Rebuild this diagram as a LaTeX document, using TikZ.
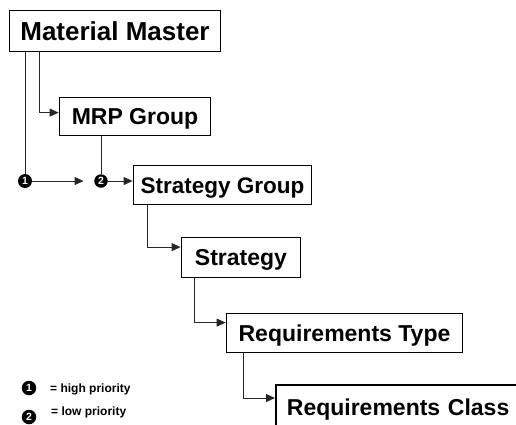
\documentclass[tikz,border=0pt]{standalone}
\usepackage{fontspec}
\setmainfont{Liberation Sans}
\usetikzlibrary{arrows.meta}
\begin{document}
\begin{tikzpicture}[x=1pt,y=-1pt,
  box/.style={draw=black, line width=1.8pt, fill=white, inner sep=0pt,
    text height=16.5pt, text depth=0pt,
    font=\bfseries\fontsize{23}{26}\selectfont},
  link/.style={draw=black!85, line width=1pt},
  arr/.style={link, -{Triangle[length=9pt,width=8pt]}},
  badge/.style={circle, fill=black, text=white, inner sep=0pt, minimum size=14pt,
    font=\bfseries\fontsize{10.5}{10.5}\selectfont},
  legendtext/.style={anchor=base west, inner sep=0pt,
    font=\bfseries\fontsize{12}{14}\selectfont}]
\useasboundingbox (0,0) rectangle (516,424);
\clip (0,0) rectangle (516,424);

% boxes
\node[box, minimum width=211pt, minimum height=41pt, text height=18.5pt,
  font=\bfseries\fontsize{26}{29}\selectfont] (mm) at (115,31) {Material Master};
\node[box, minimum width=151pt, minimum height=38pt] (mrp) at (135,116.5) {MRP Group};
\node[box, minimum width=178pt, minimum height=39pt,
  font=\bfseries\fontsize{22.5}{26}\selectfont] (sg) at (222.5,185) {Strategy Group};
\node[box, minimum width=119pt, minimum height=40pt] (st) at (241,257.5) {Strategy};
\node[box, minimum width=236pt, minimum height=39pt] (rt) at (344.5,333) {Requirements Type};
\node[box, anchor=north west, text width=230pt, align=left, inner xsep=11pt,
  minimum height=44pt] (rc) at (275,384) {Requirements Class};

% priority badges
\node[badge] (c1) at (25,181) {1};
\node[badge, minimum size=13.5pt] (c2) at (101,181) {2};

% connectors
\draw[link] (c1 |- mm.south) -- (c1.north);
\draw[arr] ([xshift=31pt]mm.south west) |- ([yshift=-16pt]mrp.north west);
\draw[arr] (c1.east) -- ([xshift=-10.5pt]c2.west);
\draw[link] (c2 |- mrp.south) -- (c2.north);
\draw[arr] (c2.east) -- (sg.west |- c2);
\draw[arr] ([xshift=15pt]sg.south west) |- ([yshift=-10.5pt]st.north west);
\draw[arr] ([xshift=14pt]st.south west) |- ([yshift=-10pt]rt.north west);
\draw[arr] ([xshift=18pt]rt.south west) |- ([yshift=-14pt]rc.north west);

% legend
\node[badge, minimum size=14.5pt] (l1) at (29,388) {1};
\node[badge, minimum size=14.5pt] (l2) at (29,417) {2};
\node[legendtext] (t1) at (50,392) {= high priority};
\node[legendtext] (t2) at (51,415) {= low priority};
\end{tikzpicture}
\end{document}
